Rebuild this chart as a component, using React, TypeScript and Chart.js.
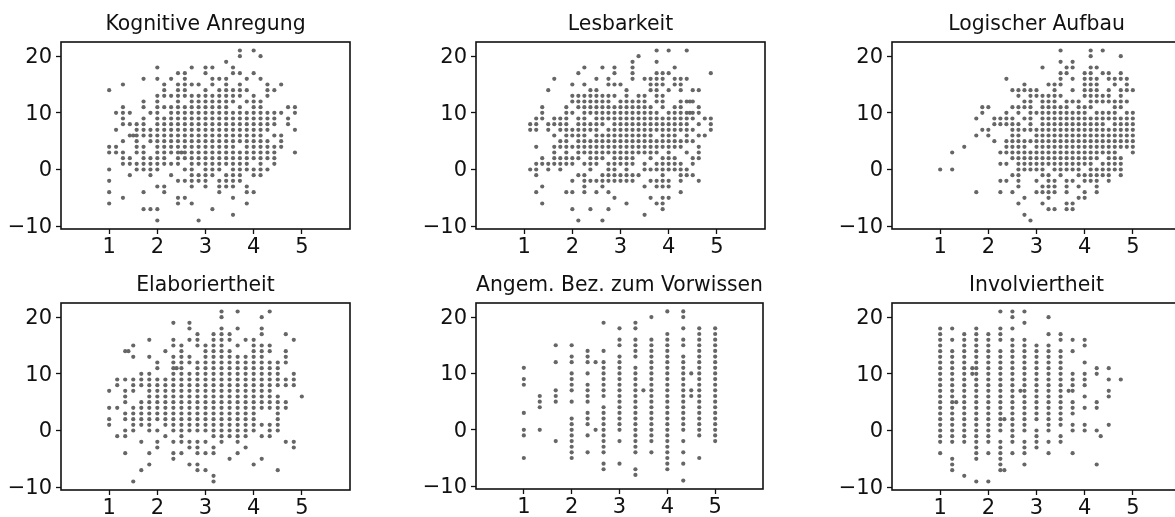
import React, { useEffect, useRef } from "react";
import { Chart, registerables } from "chart.js";

Chart.register(...registerables);

type Column = [number, number[]];

const xTickValues = [1, 2, 3, 4, 5];
const yTickValues = [-10, 0, 10, 20];

const kognitiveAnregung: Column[] = [
  [1, [14, 4, 3, 0, -2, -4, -6]],
  [1.143, [10, 7, 4, 3]],
  [1.286, [15, 11, 10, 9, 8, 5, 3, 2, 1, -5]],
  [1.429, [10, 8, 6, 2, 1, -1]],
  [1.5, [6]],
  [1.571, [8, 7, 6, 5, 4, 3, 1, 0]],
  [1.714, [16, 12, 11, 9, 8, 7, 6, 4, 3, 2, 1, 0, -4, -7]],
  [1.857, [10, 7, 6, 5, 2, 1, 0, -1, -7]],
  [2, [18, 16, 13, 12, 11, 10, 9, 8, 7, 6, 5, 4, 3, 2, 1, 0, -3, -7, -9]],
  [2.143, [15, 14, 13, 11, 9, 8, 7, 6, 5, 4, 3, 2, 1, -3, -4]],
  [2.286, [16, 13, 11, 10, 9, 8, 7, 6, 5, 4, 3, 1, -1]],
  [2.429, [17, 15, 14, 13, 12, 11, 10, 9, 8, 7, 6, 5, 4, 3, 2, 1, -2, -5, -6]],
  [2.5, [3]],
  [2.571, [17, 16, 15, 14, 13, 11, 10, 9, 8, 7, 6, 5, 4, 3, 2, 0, -2, -5]],
  [2.714, [18, 15, 13, 12, 11, 10, 9, 8, 7, 6, 5, 4, 3, 2, 1, 0, -1, -2, -3, -6]],
  [2.857, [15, 13, 12, 11, 10, 9, 8, 7, 6, 5, 4, 3, 2, 1, -1, -2, -9]],
  [3, [18, 17, 14, 13, 12, 11, 10, 9, 8, 7, 6, 5, 4, 3, 2, 1, 0, -1, -2, -3]],
  [3.143, [18, 16, 15, 13, 12, 11, 10, 9, 8, 7, 6, 5, 4, 3, 2, 1, 0, -1, -7]],
  [3.286, [16, 14, 13, 12, 11, 10, 9, 8, 7, 6, 5, 4, 3, 2, 1, 0, -2, -3, -4]],
  [3.429, [19, 16, 15, 14, 13, 12, 11, 10, 9, 8, 7, 6, 5, 4, 3, 2, 1, -1, -2, -3]],
  [3.571, [18, 17, 14, 13, 12, 10, 9, 8, 7, 6, 5, 4, 3, 2, 1, 0, -1, -2, -3, -5, -8]],
  [3.714, [21, 20, 17, 15, 14, 13, 11, 10, 9, 8, 7, 6, 5, 3, 2, 1, 0, -1, -2]],
  [3.857, [16, 14, 12, 10, 9, 8, 7, 6, 5, 4, 3, 2, 1, 0, -3, -4, -6]],
  [4, [21, 17, 13, 12, 11, 10, 9, 8, 7, 6, 5, 4, 3, 2, 0, -1, -4]],
  [4.143, [20, 16, 12, 11, 10, 9, 8, 7, 6, 5, 4, 3, 2, 1, 0, -1]],
  [4.286, [15, 14, 13, 10, 9, 8, 7, 5, 4, 3, 2, 0]],
  [4.429, [14, 10, 9, 8, 6, 4, 3, 2, 1]],
  [4.571, [15, 10, 6, 5, 4]],
  [4.714, [11, 9, 8]],
  [4.857, [11, 10, 7, 3]],
];

const lesbarkeit: Column[] = [
  [1.125, [8, 7, 0]],
  [1.25, [9, 8, 7, 4, 1, 0, -1, -4]],
  [1.375, [11, 10, 9, 2, 1, -3, -6]],
  [1.5, [14, 8, 7, 1, 0]],
  [1.625, [16, 9, 8, 6, 4, 3, 2, 1]],
  [1.75, [9, 8, 7, 5, 4, 2, 1, 0]],
  [1.875, [11, 10, 9, 8, 7, 6, 5, 4, 3, 2, 1, -4]],
  [2, [15, 13, 12, 10, 7, 6, 4, 2, 1, -2, -4, -7]],
  [2.125, [17, 13, 12, 11, 9, 8, 7, 6, 5, 4, 3, 2, -1, -9]],
  [2.25, [18, 15, 13, 12, 11, 10, 9, 8, 7, 6, 5, 4, 3, 1, -1, -2, -3, -4]],
  [2.375, [14, 13, 12, 11, 10, 8, 7, 5, 4, 3, 2, 1, 0, -2, -7]],
  [2.5, [16, 14, 13, 12, 11, 10, 9, 8, 7, 6, 5, 4, 3, 2, 1, -2, -4]],
  [2.625, [18, 13, 12, 11, 10, 9, 8, 6, 5, 4, 3, 2, -1, -2, -3, -9]],
  [2.75, [16, 15, 13, 12, 11, 10, 9, 7, 6, 5, 4, 3, 1, 0, -1, -2, -4, -7]],
  [2.875, [18, 17, 15, 13, 11, 10, 9, 8, 7, 6, 5, 4, 3, 2, 1, 0, -1, -2, -5]],
  [3, [15, 12, 11, 10, 9, 8, 7, 6, 5, 4, 3, 2, 1, -1, -2]],
  [3.125, [14, 13, 12, 11, 10, 9, 8, 7, 6, 5, 4, 3, 2, 1, 0, -1, -2, -6]],
  [3.25, [19, 18, 17, 16, 12, 11, 10, 9, 8, 7, 6, 5, 4, 3, 2, 1, -1, -2]],
  [3.375, [20, 13, 12, 11, 10, 9, 8, 7, 6, 5, 4, 3, -1]],
  [3.5, [16, 13, 12, 11, 10, 9, 8, 7, 6, 5, 4, 3, 1, 0, -3, -8]],
  [3.625, [16, 15, 14, 11, 10, 9, 8, 7, 6, 5, 4, 3, 2, 0, -2, -5]],
  [3.75, [21, 19, 17, 16, 15, 14, 13, 12, 10, 9, 8, 7, 5, 4, 3, 1, 0, -2, -3, -6]],
  [3.875, [17, 16, 15, 13, 12, 11, 9, 8, 7, 6, 5, 4, 2, 1, 0, -1, -2, -3, -5, -6, -7]],
  [4, [21, 17, 14, 10, 9, 8, 7, 6, 5, 4, 3, 2, 1, 0, -2, -3, -5]],
  [4.125, [18, 16, 15, 11, 10, 9, 8, 7, 6, 5, 4, 2, 1, 0]],
  [4.25, [16, 15, 14, 12, 11, 10, 9, 8, 7, 5, 4, 1, 0, -1, -2, -4]],
  [4.375, [21, 16, 12, 10, 9, 8, 7, 6, 5, 3, 0, -1]],
  [4.44, [12, 10]],
  [4.5, [14, 12, 10, 9, 7, 5, 2, 1, -1]],
  [4.625, [14, 11, 10, 8, 6, 4, 3, 2, -2]],
  [4.75, [9, 6]],
  [4.875, [17, 9, 8, 7]],
];

const logischerAufbau: Column[] = [
  [1, [0]],
  [1.25, [3, 0]],
  [1.5, [4]],
  [1.75, [9, 6, -4]],
  [1.875, [11, 10, 7]],
  [2, [11, 7, 6]],
  [2.125, [9, 8, 5]],
  [2.25, [9, 8, 3, 1, -2, -4]],
  [2.375, [16, 10, 9, 8, 5, 4, 3, 1, -2]],
  [2.5, [14, 11, 9, 8, 7, 6, 5, 4, 3, 2, -1, -4]],
  [2.625, [14, 13, 11, 10, 8, 7, 6, 5, 4, 3, 2, 1, 0, -1, -2, -3, -6]],
  [2.75, [15, 14, 12, 11, 9, 7, 5, 4, 3, 2, 1, 0, -5, -8]],
  [2.875, [14, 13, 12, 11, 10, 9, 8, 7, 5, 3, 2, 1, 0, -9]],
  [3, [14, 13, 10, 7, 6, 5, 4, 3, 2, 1, 0, -2, -4]],
  [3.125, [18, 13, 12, 11, 10, 9, 8, 7, 6, 5, 4, 3, 2, 1, 0, -1, -3, -4, -6]],
  [3.25, [15, 13, 12, 11, 10, 9, 8, 7, 6, 5, 4, 3, 2, 1, -1, -2, -3, -4, -5, -7]],
  [3.375, [15, 14, 13, 12, 11, 10, 9, 8, 7, 6, 5, 4, 3, 2, 1, 0, -2, -3, -4, -7]],
  [3.5, [21, 19, 17, 16, 15, 13, 11, 10, 9, 8, 7, 6, 5, 4, 3, 2, 1, 0, -1]],
  [3.625, [18, 17, 12, 11, 10, 9, 8, 7, 6, 5, 4, 3, 2, 1, 0, -2, -3, -4, -6, -7]],
  [3.75, [19, 18, 16, 14, 12, 10, 9, 8, 7, 6, 5, 4, 3, 2, 1, 0, -2, -6, -7]],
  [3.875, [12, 11, 10, 9, 8, 7, 6, 5, 4, 3, 2, 1, 0, -1, -3, -5]],
  [4, [17, 16, 15, 14, 13, 11, 10, 9, 8, 7, 6, 5, 4, 3, 2, 1, -1, -2, -4, -5]],
  [4.125, [21, 20, 18, 17, 16, 15, 14, 13, 12, 11, 9, 8, 7, 6, 5, 4, 3, 2, 1, 0, -1, -2]],
  [4.25, [18, 16, 15, 14, 13, 12, 10, 9, 8, 7, 6, 5, 4, 3, 2, 0, -1, -2, -3, -4]],
  [4.375, [21, 17, 13, 12, 10, 9, 8, 7, 6, 5, 4, 3, 1, 0, -1]],
  [4.5, [17, 16, 14, 13, 12, 10, 9, 7, 6, 5, 4, 3, 2, 1, 0, -1, -2]],
  [4.625, [16, 15, 12, 11, 10, 9, 8, 7, 6, 5, 4, 3, 2, 1, 0]],
  [4.75, [20, 17, 16, 14, 13, 12, 11, 9, 8, 7, 6, 5, 4, 2, 1, 0, -1]],
  [4.875, [16, 15, 14, 12, 10, 9, 8, 7, 6, 5, 4]],
  [5, [14, 10, 9, 8, 7, 6, 5, 4, 3]],
];

const elaboriertheit: Column[] = [
  [1, [7, 4, 2, 1]],
  [1.167, [9, 8, 4, -1]],
  [1.333, [14, 9, 7, 6, 5, 3, 2, 0, -1, -4]],
  [1.4, [14]],
  [1.5, [15, 13, 9, 8, 7, 4, 3, 2, 1, 0, -9]],
  [1.667, [10, 9, 8, 5, 4, 3, 2, 1, -2, -7]],
  [1.833, [16, 13, 10, 9, 8, 7, 6, 5, 4, 3, 2, 1, 0, -4, -6]],
  [2, [12, 11, 9, 8, 7, 6, 5, 4, 3, 2, 0, -2, -3]],
  [2.167, [14, 9, 8, 7, 6, 5, 4, 3, 2, 1, -1]],
  [2.333, [19, 16, 15, 13, 12, 11, 10, 9, 8, 7, 6, 5, 4, 3, 2, 1, 0, -2, -4, -5]],
  [2.4, [11]],
  [2.5, [15, 14, 13, 12, 11, 10, 9, 8, 7, 6, 5, 4, 3, 2, 1, 0, -1, -2, -4]],
  [2.667, [19, 18, 16, 13, 12, 10, 9, 8, 7, 6, 5, 4, 3, 2, 1, 0, -2, -3, -6]],
  [2.833, [17, 16, 15, 12, 11, 10, 9, 8, 7, 6, 5, 4, 3, 2, 1, 0, -2, -3, -4, -6, -7]],
  [3, [15, 14, 13, 12, 11, 10, 9, 8, 7, 6, 5, 4, 3, 2, 1, 0, -2, -4, -7]],
  [3.167, [17, 16, 15, 14, 13, 12, 11, 10, 9, 8, 7, 6, 5, 4, 3, 2, 1, 0, -1, -3, -4, -8, -9]],
  [3.333, [21, 20, 18, 17, 16, 15, 14, 13, 12, 11, 10, 9, 8, 7, 6, 5, 4, 3, 2, 1, 0, -1, -2]],
  [3.5, [17, 16, 14, 13, 12, 11, 10, 9, 8, 7, 6, 5, 4, 3, 2, 1, 0, -1, -5]],
  [3.667, [21, 18, 15, 13, 12, 11, 10, 9, 8, 7, 6, 5, 4, 3, 2, 1, 0, -1, -2, -4]],
  [3.833, [16, 13, 12, 11, 10, 9, 8, 7, 6, 5, 4, 3, 2, 1, 0, -1, -3]],
  [4, [16, 15, 14, 13, 12, 11, 10, 9, 8, 7, 6, 5, 4, 3, 2, 1, 0, -6]],
  [4.167, [20, 18, 17, 15, 14, 13, 12, 11, 10, 9, 8, 7, 6, 5, 4, 1, -1, -5]],
  [4.333, [21, 15, 14, 12, 11, 10, 9, 8, 7, 6, 5, 4, 1, 0, -1]],
  [4.5, [12, 11, 10, 9, 8, 6, 5, 4, 3, 2, 1, 0, -7]],
  [4.667, [17, 14, 13, 12, 9, 8, 5, 4, -2]],
  [4.833, [16, 10, 9, 8, -2, -3]],
  [5, [6]],
];

const vorwissen: Column[] = [
  [1, [11, 9, 8, 3, 0, -1, -5]],
  [1.333, [6, 5, 4, 0]],
  [1.667, [15, 12, 7, 6, 5, -2]],
  [2, [15, 13, 12, 10, 9, 8, 7, 5, 2, 1, 0, -1, -2, -3, -4, -5]],
  [2.333, [14, 13, 12, 10, 8, 7, 6, 5, 3, 2, 1, -1, -4]],
  [2.5, [12, 0]],
  [2.667, [19, 14, 12, 11, 10, 9, 8, 7, 6, 4, 3, 2, 1, 0, -1, -2, -3, -4, -6, -7]],
  [3, [18, 16, 15, 13, 12, 11, 10, 9, 8, 7, 6, 5, 4, 3, 2, 1, 0, -2, -6]],
  [3.333, [19, 18, 16, 15, 14, 13, 11, 10, 9, 8, 7, 6, 5, 4, 3, 2, 1, 0, -1, -2, -3, -4, -7, -8]],
  [3.5, [7]],
  [3.667, [20, 16, 15, 14, 13, 12, 11, 10, 9, 8, 7, 6, 5, 4, 3, 2, 1, 0, -1, -2, -4]],
  [4, [21, 17, 16, 15, 14, 13, 12, 11, 10, 9, 8, 7, 6, 5, 4, 3, 2, 1, 0, -1, -2, -3, -4, -5, -6, -7]],
  [4.333, [21, 20, 18, 16, 15, 13, 12, 11, 10, 9, 8, 7, 6, 5, 4, 3, 2, 1, 0, -2, -4, -6, -9]],
  [4.5, [10, 7, 6]],
  [4.667, [18, 17, 16, 15, 14, 13, 12, 11, 10, 9, 8, 7, 6, 5, 4, 3, 2, 1, 0, -1, -5]],
  [5, [18, 17, 16, 15, 14, 13, 12, 11, 10, 9, 8, 7, 6, 5, 4, 3, 2, 1, 0, -1, -2]],
];

const involviertheit: Column[] = [
  [1, [18, 17, 16, 15, 14, 13, 12, 11, 10, 9, 8, 7, 6, 5, 4, 3, 2, 1, 0, -1, -2, -4]],
  [1.25, [18, 16, 14, 13, 12, 11, 10, 9, 8, 7, 6, 5, 4, 3, 2, 1, 0, -1, -2, -5, -6, -7]],
  [1.333, [5]],
  [1.5, [17, 16, 15, 14, 13, 12, 11, 10, 9, 8, 7, 6, 5, 4, 3, 2, 1, 0, -1, -2, -8]],
  [1.667, [11, 10]],
  [1.75, [18, 17, 16, 15, 14, 13, 12, 11, 10, 9, 8, 7, 6, 5, 4, 3, 2, 1, 0, -1, -2, -3, -4, -5, -9]],
  [2, [17, 16, 15, 14, 13, 12, 11, 10, 9, 8, 7, 6, 5, 4, 3, 2, 1, 0, -1, -2, -4, -9]],
  [2.25, [21, 18, 17, 16, 14, 13, 12, 11, 10, 9, 8, 7, 6, 5, 4, 3, 2, 1, 0, -2, -3, -4, -5, -6, -7]],
  [2.333, [2, -7]],
  [2.5, [21, 20, 18, 16, 15, 14, 13, 12, 11, 10, 9, 8, 7, 6, 5, 4, 3, 2, 1, 0, -1, -2, -4]],
  [2.667, [7]],
  [2.75, [21, 19, 16, 15, 14, 13, 12, 11, 10, 9, 8, 7, 6, 5, 4, 3, 2, 1, 0, -2, -3, -4, -6]],
  [3, [15, 14, 13, 12, 11, 10, 9, 8, 7, 6, 5, 4, 3, 2, 0, -1, -2, -3]],
  [3.25, [20, 17, 15, 14, 13, 12, 11, 10, 9, 8, 7, 6, 5, 4, 3, 2, 1, 0, -2, -4]],
  [3.5, [17, 16, 14, 13, 12, 11, 10, 9, 8, 7, 6, 5, 4, 3, 2, 1, -1, -2]],
  [3.667, [7]],
  [3.75, [16, 14, 10, 9, 8, 7, 5, 4, 3, 1, 0, -4]],
  [4, [16, 15, 12, 10, 9, 8, 6, 4, 1, 0]],
  [4.25, [11, 10, 5, 4, 0, -6]],
  [4.333, [-1]],
  [4.5, [11, 9, 7, 6, 1]],
  [4.75, [9]],
];

const panels = [
  { title: "Kognitive Anregung", columns: kognitiveAnregung, left: 60.7, top: 41.5, w: 289.3, h: 187.7 },
  { title: "Lesbarkeit", columns: lesbarkeit, left: 476, top: 41.5, w: 289.3, h: 187.7 },
  { title: "Logischer Aufbau", columns: logischerAufbau, left: 891.7, top: 41.5, w: 289.3, h: 187.7 },
  { title: "Elaboriertheit", columns: elaboriertheit, left: 60.7, top: 302.5, w: 289.3, h: 187.3 },
  { title: "Angem. Bez. zum Vorwissen", columns: vorwissen, left: 476, top: 303.3, w: 287.7, h: 186.4 },
  { title: "Involviertheit", columns: involviertheit, left: 891.7, top: 302.5, w: 289.3, h: 187.3 },
];

const FONT = "'DejaVu Sans'";
const GUTTER_L = 60;
const GUTTER_T = 41;
const GUTTER_B = 27;

const frame = {
  id: "frame",
  afterDraw(chart: any) {
    const { ctx, chartArea: a } = chart;
    ctx.save();
    ctx.strokeStyle = "#111";
    ctx.lineWidth = 1.6;
    ctx.strokeRect(a.left, a.top, a.right - a.left, a.bottom - a.top);
    ctx.restore();
  },
};

function Panel({ p }: { p: (typeof panels)[number] }) {
  const ref = useRef<HTMLCanvasElement>(null);
  useEffect(() => {
    const data = p.columns.flatMap(([x, ys]) => ys.map((y) => ({ x, y })));
    const chart = new Chart(ref.current!, {
      type: "scatter",
      data: {
        datasets: [
          {
            data,
            pointRadius: 2.1,
            pointBorderWidth: 0,
            pointBackgroundColor: "#666666",
            pointHoverRadius: 2.1,
          },
        ],
      },
      plugins: [frame],
      options: {
        responsive: false,
        animation: false,
        events: [],
        layout: { padding: { left: 0, right: 4, top: 0, bottom: 0 } },
        plugins: {
          legend: { display: false },
          tooltip: { enabled: false },
          title: {
            display: true,
            text: p.title,
            fullSize: false,
            color: "#111",
            font: { family: FONT, size: 20.4, weight: "normal", lineHeight: 1.2 },
            padding: { top: 11, bottom: GUTTER_T - 11 - 24.48 },
          },
        },
        scales: {
          x: {
            type: "linear",
            min: 0,
            max: 6,
            afterBuildTicks: (s: any) => {
              s.ticks = xTickValues.map((value) => ({ value }));
            },
            afterFit: (s: any) => {
              s.height = GUTTER_B;
            },
            grid: { drawOnChartArea: false, drawTicks: true, tickLength: 5, tickColor: "#111", tickWidth: 1.3 },
            border: { display: false },
            ticks: {
              color: "#111",
              padding: 1,
              maxRotation: 0,
              font: { family: FONT, size: 21 },
              callback: (v: any) => String(v),
            },
          },
          y: {
            type: "linear",
            min: -10.5,
            max: 22.5,
            afterBuildTicks: (s: any) => {
              s.ticks = yTickValues.map((value) => ({ value }));
            },
            afterFit: (s: any) => {
              s.width = GUTTER_L;
            },
            grid: { drawOnChartArea: false, drawTicks: true, tickLength: 5, tickColor: "#111", tickWidth: 1.3 },
            border: { display: false },
            ticks: {
              color: "#111",
              padding: 4,
              font: { family: FONT, size: 21, lineHeight: 0.14 },
              callback: (v: any) => ["", String(v).replace("-", "\u2212")],
            },
          },
        },
      },
    } as any);
    return () => chart.destroy();
  }, [p]);
  return (
    <canvas
      ref={ref}
      width={GUTTER_L + p.w + 4}
      height={GUTTER_T + p.h + GUTTER_B}
      style={{ position: "absolute", left: p.left - GUTTER_L, top: p.top - GUTTER_T, display: "block", filter: "blur(0.4px)" }}
    />
  );
}

export default function App() {
  return (
    <div style={{ position: "fixed", left: 0, top: 0, width: 1175, height: 517, overflow: "hidden", background: "#fff" }}>
      {panels.map((p) => (
        <Panel key={p.title} p={p} />
      ))}
    </div>
  );
}
